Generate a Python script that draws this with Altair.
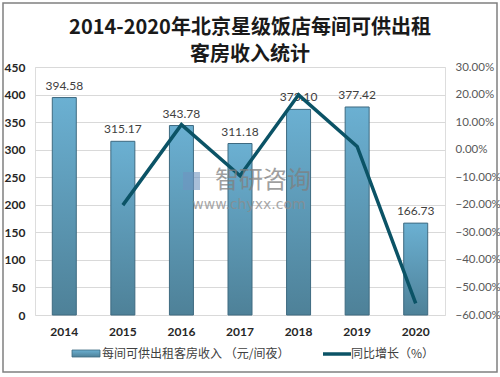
import altair as alt
import pandas as pd

years = ["2014", "2015", "2016", "2017", "2018", "2019", "2020"]
revenue = [394.58, 315.17, 343.78, 311.18, 373.10, 377.42, 166.73]
growth_years = ["2015", "2016", "2017", "2018", "2019", "2020"]
growth = [-0.2013, 0.0908, -0.0948, 0.1990, 0.0116, -0.5582]
title_lines = ["2014-2020年北京星级饭店每间可供出租", "客房收入统计"]
bar_name = "每间可供出租客房收入  （元/间夜）"
line_name = "同比增长（%）"
left_ticks = [0, 50, 100, 150, 200, 250, 300, 350, 400, 450]
right_ticks = [0.3, 0.2, 0.1, 0.0, -0.1, -0.2, -0.3, -0.4, -0.5, -0.6]

bars_df = pd.DataFrame({"year": years, "revenue": revenue, "label": [f"{v:.2f}" for v in revenue]})
line_df = pd.DataFrame({"year": growth_years, "growth": growth})
one = pd.DataFrame({"k": [0]})

W, H = 410, 248
CJK = "Noto Sans CJK SC"
NUM = "Lato"

bar_grad = alt.Gradient(
    gradient="linear", x1=0, x2=0, y1=0, y2=1,
    stops=[alt.GradientStop(offset=0, color="#6BB0D2"),
           alt.GradientStop(offset=1, color="#4E8198")],
)

x_enc = alt.X("year:N", sort=years, title=None,
              scale=alt.Scale(domain=years, paddingInner=0, paddingOuter=0),
              axis=alt.Axis(labelAngle=0, labelFont=NUM, labelFontWeight="bold", labelFontSize=12,
                            labelColor="#262626", labelPadding=11, domain=False, ticks=False, grid=False))

y_left = alt.Y("revenue:Q", title=None,
               scale=alt.Scale(domain=[0, 450], nice=False),
               axis=alt.Axis(values=left_ticks, labelFont=NUM, labelFontWeight="bold",
                             labelFontSize=12, labelColor="#262626", labelPadding=10, labelOverlap=False,
                             domain=False, ticks=False, gridColor="#D9D9D9", gridWidth=1))

base = alt.Chart(bars_df).encode(x=x_enc, y=y_left)
bars = base.mark_bar(size=24, color=bar_grad, stroke="#3E6A80", strokeWidth=1)
labels = base.mark_text(baseline="bottom", dy=-5, font=NUM, fontSize=12, color="#404040").encode(text="label:N")
left = alt.layer(bars, labels).resolve_scale(y="shared")

line = alt.Chart(line_df).mark_line(color="#0B5366", strokeWidth=3.5).encode(
    x=alt.X("year:N", sort=years),
    y=alt.Y("growth:Q", title=None,
            scale=alt.Scale(domain=[-0.6, 0.3], nice=False),
            axis=alt.Axis(orient="right", format=".2%", values=right_ticks,
                          labelFont=NUM, labelFontSize=11.5, labelColor="#595959", labelPadding=10,
                          labelOverlap=False, domain=False, ticks=False, grid=False)))

# watermark
wm1 = alt.Chart(one).mark_text(text="智研咨询", font=CJK, fontSize=24, color="#7F7F7F", opacity=0.75,
                               align="center", baseline="middle").encode(x=alt.value(228), y=alt.value(114))
wm2 = alt.Chart(one).mark_text(text="www.chyxx.com", font="DejaVu Sans", fontSize=14, color="#8C8C8C",
                               opacity=0.75, align="center", baseline="middle").encode(x=alt.value(214), y=alt.value(138))
wm_icon = alt.Chart(one).mark_rect(color="#6F95C0", opacity=0.6).encode(
    x=alt.value(148), x2=alt.value(165), y=alt.value(105), y2=alt.value(123))

# legend
leg_bar = alt.Chart(one).mark_rect(color=bar_grad, stroke="#3E6A80", strokeWidth=0.8).encode(
    x=alt.value(37), x2=alt.value(65), y=alt.value(283), y2=alt.value(290))
leg_bar_txt = alt.Chart(one).mark_text(text=bar_name, font=CJK, fontSize=12, color="#404040",
                                       align="left", baseline="middle").encode(x=alt.value(67), y=alt.value(287))
leg_line = alt.Chart(one).mark_rule(color="#0B5366", strokeWidth=3.5).encode(
    x=alt.value(288), x2=alt.value(316), y=alt.value(287))
leg_line_txt = alt.Chart(one).mark_text(text=line_name, font=CJK, fontSize=12, color="#404040",
                                        align="left", baseline="middle").encode(x=alt.value(316), y=alt.value(287))

# title
t1 = alt.Chart(one).mark_text(text=title_lines[0], font=CJK, fontSize=20, fontWeight="bold", color="#1A1A1A",
                              align="center", baseline="middle").encode(x=alt.value(215), y=alt.value(-39))
t2 = alt.Chart(one).mark_text(text=title_lines[1], font=CJK, fontSize=20, fontWeight="bold", color="#1A1A1A",
                              align="center", baseline="middle").encode(x=alt.value(215), y=alt.value(-12))

border = alt.Chart(one).mark_rect(filled=False, stroke="#808080", strokeWidth=1.5).encode(
    x=alt.value(-32), x2=alt.value(462), y=alt.value(-64), y2=alt.value(305))

chart = alt.layer(
    left, line, wm_icon, wm1, wm2, leg_bar, leg_bar_txt, leg_line, leg_line_txt, t1, t2, border
).resolve_scale(y="independent").properties(
    width=W, height=H,
    autosize=alt.AutoSizeParams(type="none"),
    padding={"left": 35, "top": 67, "right": 55, "bottom": 62},
).configure_view(stroke=None).configure(background="white")

chart.save("out.html", embed_options={"renderer": "svg", "actions": False})
